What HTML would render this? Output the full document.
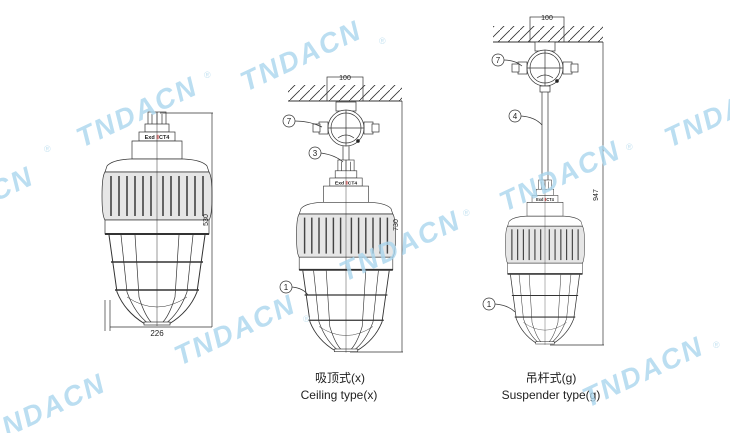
<!DOCTYPE html>
<html><head><meta charset="utf-8"><style>
html,body{margin:0;padding:0;background:#fff;}
svg{display:block;}
.wm{font-family:"Liberation Sans",sans-serif;font-weight:bold;font-style:italic;font-size:28px;fill:#aad6ee;fill-opacity:0.8;letter-spacing:2px;}
.r{font-family:"Liberation Sans",sans-serif;font-size:9px;fill:#c8e4f2;}
.t{font-family:"Liberation Sans",sans-serif;fill:#222;}
</style></head><body>
<svg width="730" height="433" viewBox="0 0 730 433" xmlns="http://www.w3.org/2000/svg">
<defs>
<pattern id="hatch" width="10" height="10" patternUnits="userSpaceOnUse">
<line x1="0" y1="10" x2="10" y2="0" stroke="#333" stroke-width="0.8"/>
</pattern>
<g id="lamp" stroke="#333" stroke-width="0.7" fill="#fff">
<rect x="-9" y="0" width="18" height="18" fill="#fff"/>
<line x1="-5" y1="2" x2="-5" y2="18"/><line x1="0" y1="0" x2="0" y2="18"/><line x1="5" y1="2" x2="5" y2="18"/>
<rect x="-12" y="12" width="24" height="8"/>
<rect x="-18" y="20" width="36" height="9"/>
<text x="0" y="27" font-size="5.5" text-anchor="middle" stroke="none" fill="#222" font-family="Liberation Sans" font-weight="bold">Exd <tspan fill="#d44">Ⅱ</tspan>CT4</text>
<path d="M-25 29 L25 29 L25 47 L-25 47 Z"/>
<path d="M-27 47 L27 47 Q45 48 50 54 L52 60 L-52 60 L-50 54 Q-45 48 -27 47 Z"/>
<path d="M-52 60 L52 60 Q55 64 55 84 Q55 104 52 108 L-52 108 Q-55 104 -55 84 Q-55 64 -52 60 Z" fill="#e6e6e6"/>
<g stroke="#444" stroke-width="1.6">
<line x1="-46" y1="64" x2="-46" y2="104"/><line x1="-38" y1="64" x2="-38" y2="104"/><line x1="-30" y1="64" x2="-30" y2="104"/><line x1="-22" y1="64" x2="-22" y2="104"/><line x1="-14" y1="64" x2="-14" y2="104"/><line x1="-6" y1="64" x2="-6" y2="104"/><line x1="6" y1="64" x2="6" y2="104"/><line x1="14" y1="64" x2="14" y2="104"/><line x1="22" y1="64" x2="22" y2="104"/><line x1="30" y1="64" x2="30" y2="104"/><line x1="38" y1="64" x2="38" y2="104"/><line x1="46" y1="64" x2="46" y2="104"/>
</g>
<rect x="-52" y="108" width="104" height="14"/>
<line x1="-52" y1="122" x2="52" y2="122" stroke-width="2"/>
<path d="M-48 123 L-40 180 Q-32 200 -12 212 L12 212 Q32 200 40 180 L48 123" fill="none" stroke-width="1"/>
<path d="M-36 123 L-30 180 Q-22 202 -8 212 M-22 123 L-18 185 Q-12 205 -4 212 M36 123 L30 180 Q22 202 8 212 M22 123 L18 185 Q12 205 4 212" fill="none"/>
<line x1="-46" y1="150" x2="46" y2="150" stroke-width="1.4"/>
<line x1="-42" y1="178" x2="42" y2="178" stroke-width="1.4"/>
<path d="M-30 185 Q0 205 30 185" fill="none" stroke-width="0.5"/>
<rect x="-13" y="210" width="26" height="3" fill="#fff"/>
<line x1="0" y1="0" x2="0" y2="214" stroke-width="0.5"/>
</g>
<g id="jbox" stroke="#333" stroke-width="0.7" fill="#fff">
<rect x="-10" y="-26" width="20" height="9"/>
<rect x="-27" y="-6" width="9" height="12"/><rect x="18" y="-6" width="9" height="12"/>
<rect x="-33" y="-4" width="7" height="8"/><rect x="26" y="-4" width="7" height="8"/>
<circle cx="0" cy="0" r="18"/>
<circle cx="0" cy="0" r="15"/>
<line x1="-18" y1="0" x2="18" y2="0"/><line x1="0" y1="-18" x2="0" y2="18"/>
<path d="M-8 10 Q0 4 8 10" fill="none"/>
<circle cx="12" cy="13" r="1.5" fill="#222"/>
</g>
</defs>

<!-- left lamp -->
<use href="#lamp" transform="translate(157,112)"/>
<g stroke="#333" stroke-width="0.7" fill="none">
<line x1="160" y1="113" x2="213" y2="113"/><line x1="212" y1="113" x2="212" y2="327"/>
<line x1="110" y1="327" x2="212" y2="327"/>
<line x1="105" y1="300" x2="105" y2="331"/><line x1="110" y1="300" x2="110" y2="331"/>
</g>
<text class="t" x="157" y="336" font-size="8" text-anchor="middle">226</text>
<text class="t" font-size="7" transform="translate(208,220) rotate(-90)" text-anchor="middle">530</text>

<!-- middle -->
<rect x="288" y="85" width="114" height="16" fill="url(#hatch)"/>
<rect x="327" y="77" width="36" height="24" fill="none" stroke="#333" stroke-width="0.7"/>
<line x1="288" y1="101" x2="402" y2="101" stroke="#333" stroke-width="1"/>
<text class="t" x="345" y="80" font-size="7" text-anchor="middle">100</text>
<use href="#jbox" transform="translate(346,128)"/>
<g stroke="#333" stroke-width="0.7"><line x1="343" y1="146" x2="343" y2="161"/><line x1="349" y1="146" x2="349" y2="161"/></g>
<use href="#lamp" transform="translate(346,160) scale(0.9,0.9)"/>
<g stroke="#333" stroke-width="0.7" fill="none">
<line x1="402" y1="101" x2="402" y2="352"/><line x1="350" y1="352" x2="403" y2="352"/>
<circle cx="289" cy="121" r="6"/><path d="M295 121 Q310 121 322 127"/>
<circle cx="315" cy="153" r="6"/><path d="M321 153 Q335 155 343 162"/>
<circle cx="286" cy="287" r="6"/><path d="M292 287 Q303 288 308 295"/>
</g>
<text class="t" x="289" y="124" font-size="8" text-anchor="middle">7</text>
<text class="t" x="315" y="156" font-size="8" text-anchor="middle">3</text>
<text class="t" x="286" y="290" font-size="8" text-anchor="middle">1</text>
<text class="t" font-size="7" transform="translate(398,225) rotate(-90)" text-anchor="middle">730</text>

<!-- right -->
<rect x="493" y="26" width="110" height="16" fill="url(#hatch)"/>
<rect x="530" y="17" width="34" height="25" fill="none" stroke="#333" stroke-width="0.7"/>
<line x1="493" y1="42" x2="603" y2="42" stroke="#333" stroke-width="1"/>
<text class="t" x="547" y="20" font-size="7" text-anchor="middle">100</text>
<use href="#jbox" transform="translate(545,68)"/>
<g stroke="#333" stroke-width="0.7" fill="#fff"><rect x="540" y="86" width="10" height="6"/><line x1="542" y1="92" x2="542" y2="180"/><line x1="548" y1="92" x2="548" y2="180"/></g>
<use href="#lamp" transform="translate(545,180) scale(0.72,0.77)"/>
<g stroke="#333" stroke-width="0.7" fill="none">
<line x1="603" y1="42" x2="603" y2="345"/><line x1="550" y1="345" x2="604" y2="345"/>
<circle cx="498" cy="60" r="6"/><path d="M504 60 Q515 60 522 66"/>
<circle cx="515" cy="116" r="6"/><path d="M521 116 Q535 117 542 125"/>
<circle cx="489" cy="304" r="6"/><path d="M495 304 Q508 305 515 312"/>
</g>
<text class="t" x="498" y="63" font-size="8" text-anchor="middle">7</text>
<text class="t" x="515" y="119" font-size="8" text-anchor="middle">4</text>
<text class="t" x="489" y="307" font-size="8" text-anchor="middle">1</text>
<text class="t" font-size="7" transform="translate(598,195) rotate(-90)" text-anchor="middle">947</text>

<!-- captions -->
<text class="t" x="340" y="382" font-size="12" text-anchor="middle" font-family="Liberation Sans, Noto Sans CJK SC, sans-serif">吸顶式(x)</text>
<text class="t" x="339" y="399" font-size="12" text-anchor="middle">Ceiling type(x)</text>
<text class="t" x="551" y="382" font-size="12" text-anchor="middle" font-family="Liberation Sans, Noto Sans CJK SC, sans-serif">吊杆式(g)</text>
<text class="t" x="551" y="399" font-size="12" text-anchor="middle">Suspender type(g)</text>

<!-- watermarks -->
<text class="wm" transform="translate(246,92) rotate(-25)">TNDACN</text><text class="r" x="379" y="44">®</text>
<text class="wm" transform="translate(82,148) rotate(-25)">TNDACN</text><text class="r" x="204" y="78">®</text>
<text class="wm" transform="translate(-82,238) rotate(-25)">TNDACN</text><text class="r" x="44" y="152">®</text>
<text class="wm" transform="translate(670,148) rotate(-25)">TNDACN</text>
<text class="wm" transform="translate(345,282) rotate(-25)">TNDACN</text><text class="r" x="463" y="216">®</text>
<text class="wm" transform="translate(505,212) rotate(-25)">TNDACN</text><text class="r" x="626" y="150">®</text>
<text class="wm" transform="translate(180,366) rotate(-25)">TNDACN</text><text class="r" x="303" y="322">®</text>
<text class="wm" transform="translate(-10,445) rotate(-25)">TNDACN</text>
<text class="wm" transform="translate(588,408) rotate(-25)">TNDACN</text><text class="r" x="713" y="348">®</text>
</svg>
</body></html>
